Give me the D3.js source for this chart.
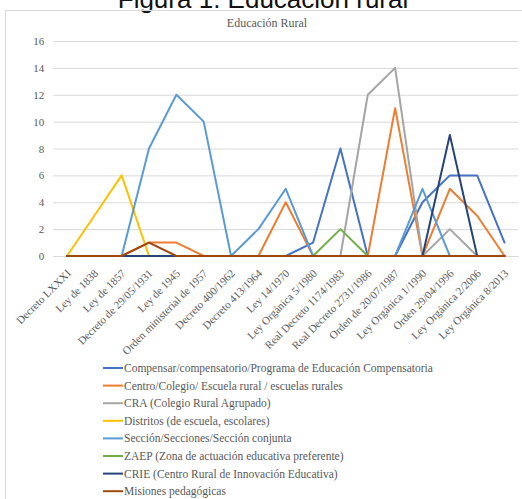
<!DOCTYPE html>
<html>
<head>
<meta charset="utf-8">
<script src="https://cdn.jsdelivr.net/npm/d3@7"></script>
<style>
  html, body { margin: 0; padding: 0; background: #fff; }
  svg { display: block; }
</style>
</head>
<body>
<svg id="chart" width="522" height="499"></svg>
<script>
// Normative texts along the horizontal axis
const categories = [
  "Decreto LXXXI", "Ley de 1838", "Ley de 1857", "Decreto de 29/05/1931",
  "Ley de 1945", "Orden ministerial de 1957", "Decreto 400/1962",
  "Decreto 413/1964", "Ley 14/1970", "Ley Orgánica 5/1980",
  "Real Decreto 1174/1983", "Real Decreto 2731/1986", "Orden de 20/07/1987",
  "Ley Orgánica 1/1990", "Orden 29/04/1996", "Ley Orgánica 2/2006",
  "Ley Orgánica 8/2013"
];

// Term counts per normative text
const compensar = [0,0,0,0,0,0,0,0,0,1,8,0,0,4,6,6,1];
const centro    = [0,0,0,1,1,0,0,0,4,0,0,0,11,0,5,3,0];
const cra       = [0,0,0,0,0,0,0,0,0,0,0,12,14,0,2,0,0];
const distritos = [0,3,6,0,0,0,0,0,0,0,0,0,0,0,0,0,0];
const seccion   = [0,0,0,8,12,10,0,2,5,0,0,0,0,5,0,0,0];
const zaep      = [0,0,0,0,0,0,0,0,0,0,2,0,0,0,0,0,0];
const crie      = [0,0,0,0,0,0,0,0,0,0,0,0,0,0,9,0,0];
const misiones  = [0,0,0,1,0,0,0,0,0,0,0,0,0,0,0,0,0];

const seriesNames = [
  "Compensar/compensatorio/Programa de Educación Compensatoria",
  "Centro/Colegio/ Escuela rural / escuelas rurales",
  "CRA (Colegio Rural Agrupado)",
  "Distritos (de escuela, escolares)",
  "Sección/Secciones/Sección conjunta",
  "ZAEP (Zona de actuación educativa preferente)",
  "CRIE (Centro Rural de Innovación Educativa)",
  "Misiones pedagógicas"
];
const seriesValues = [compensar, centro, cra, distritos, seccion, zaep, crie, misiones];
const seriesColors = ["#4472C4", "#ED7D31", "#A5A5A5", "#FFC000", "#5B9BD5", "#70AD47", "#264478", "#9E480E"];

const yTicks = [0, 2, 4, 6, 8, 10, 12, 14, 16];

const svg = d3.select("#chart");
const serif = "'Liberation Serif', 'Times New Roman', serif";
const textGray = "#595959";

// Figure caption above the chart frame
svg.append("text")
  .attr("x", 263).attr("y", 8)
  .attr("text-anchor", "middle")
  .attr("font-family", "'Liberation Sans', Arial, sans-serif")
  .attr("font-size", 26)
  .attr("fill", "#111")
  .text("Figura 1. Educación rural");

// Chart frame
svg.append("rect")
  .attr("x", 5.5).attr("y", 10.5)
  .attr("width", 540).attr("height", 520)
  .attr("fill", "none")
  .attr("stroke", "#D9D9D9");

// Chart title
svg.append("text")
  .attr("x", 267).attr("y", 27)
  .attr("text-anchor", "middle")
  .attr("font-family", serif)
  .attr("font-size", 12)
  .attr("fill", textGray)
  .text("Educación Rural");

const x = d3.scalePoint()
  .domain(categories)
  .range([53.3, 518.2])
  .padding(0.5);

const y = d3.scaleLinear()
  .domain([0, 16])
  .range([256, 41]);

// Horizontal gridlines and value labels
const yAxis = d3.axisLeft(y)
  .tickValues(yTicks)
  .tickSize(-(518.2 - 53.3))
  .tickPadding(9);

const gy = svg.append("g")
  .attr("transform", "translate(53.3,0)")
  .call(yAxis);
gy.select(".domain").remove();
gy.selectAll(".tick line").attr("stroke", "#D9D9D9").attr("stroke-width", 1);
gy.selectAll(".tick text")
  .attr("font-family", serif)
  .attr("font-size", 11)
  .attr("fill", textGray);

// Category axis with rotated labels
const xAxis = d3.axisBottom(x).tickSize(0).tickPadding(0);
const gx = svg.append("g")
  .attr("transform", "translate(0,256)")
  .call(xAxis);
gx.select(".domain").attr("stroke", "#D9D9D9");
gx.selectAll(".tick text")
  .attr("font-family", serif)
  .attr("font-size", 11)
  .attr("fill", textGray)
  .attr("text-anchor", "end")
  .attr("dy", 0)
  .attr("transform", "translate(4,18) rotate(-45)");

// Series lines
const line = d3.line()
  .x((d, i) => x(categories[i]))
  .y(d => y(d));

const gLines = svg.append("g");
seriesValues.forEach((vals, s) => {
  gLines.append("path")
    .datum(vals)
    .attr("d", line)
    .attr("fill", "none")
    .attr("stroke", seriesColors[s])
    .attr("stroke-width", 2)
    .attr("stroke-linejoin", "round")
    .attr("stroke-linecap", "round");
});

// Legend
const legend = svg.append("g");
seriesNames.forEach((name, s) => {
  const ly = 368 + s * 17.6;
  legend.append("line")
    .attr("x1", 103).attr("x2", 123)
    .attr("y1", ly).attr("y2", ly)
    .attr("stroke", seriesColors[s])
    .attr("stroke-width", 2);
  legend.append("text")
    .attr("x", 124).attr("y", ly)
    .attr("dy", "0.35em")
    .attr("font-family", serif)
    .attr("font-size", 11.5)
    .attr("fill", textGray)
    .text(name);
});
</script>
</body>
</html>
